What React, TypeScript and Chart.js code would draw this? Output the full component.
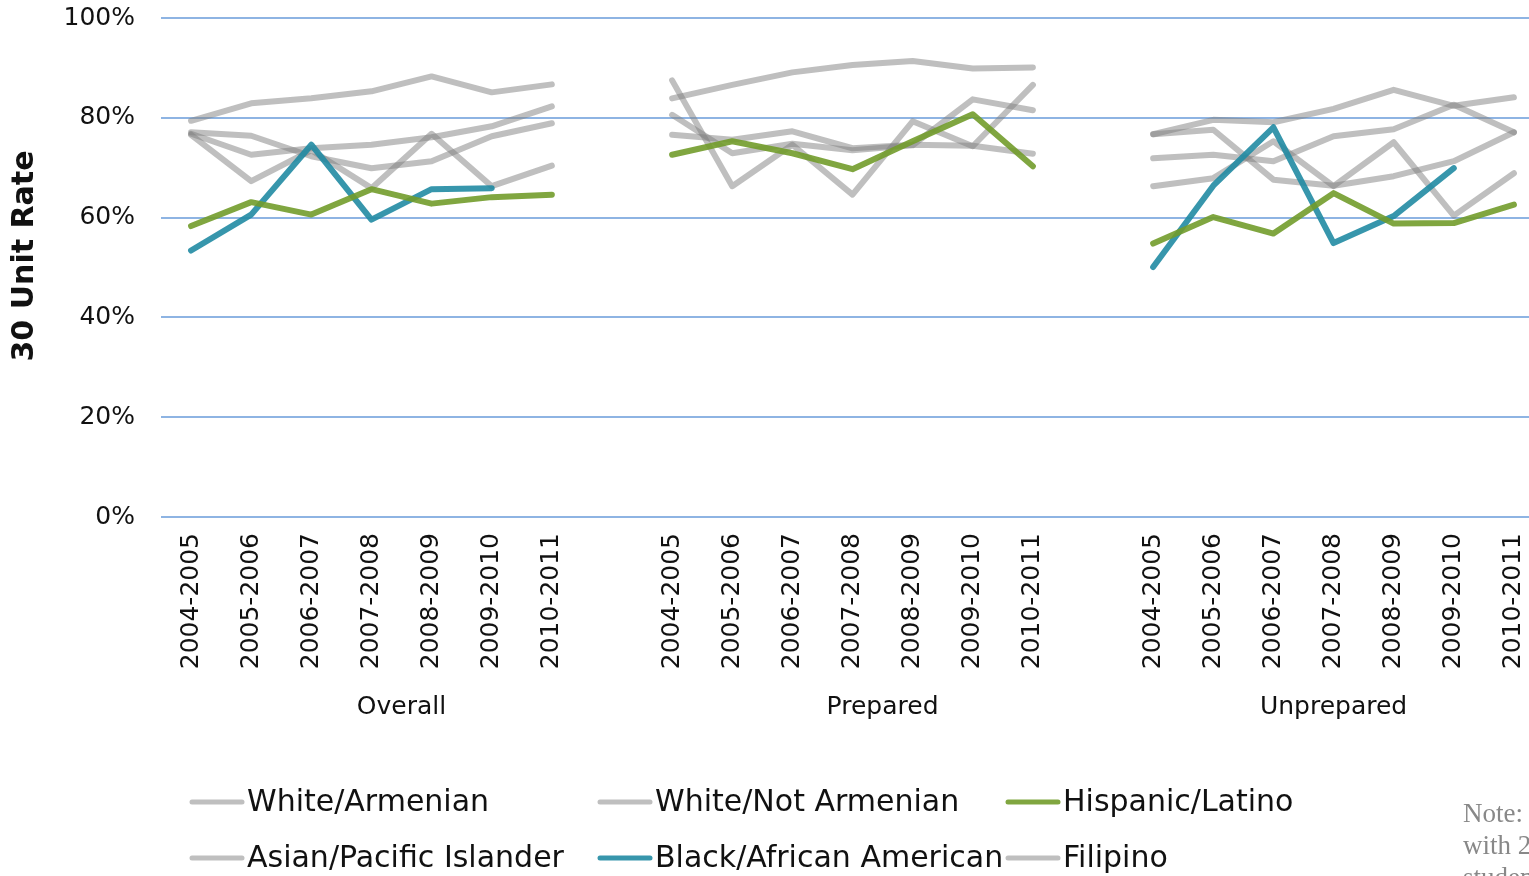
import React, { useEffect, useRef } from 'react';
import { Chart, registerables } from 'chart.js';

Chart.register(...registerables);

const years = ['2004-2005', '2005-2006', '2006-2007', '2007-2008', '2008-2009', '2009-2010', '2010-2011'];
const groupNames = ['Overall', 'Prepared', 'Unprepared'];
const categories = [...years, '', ...years, '', ...years];
const groupRanges = [[0, 7], [8, 15], [16, 22]];
const yTicks = [0, 20, 40, 60, 80, 100];
const yTitle = '30 Unit Rate';

const whiteArmenian = [76.6, 67.3, 73.5, 65.9, 76.8, 66.3, 70.4, null, 87.5, 66.3, 74.6, 64.6, 79.3, 74.3, 86.6, null, 66.3, 67.9, 75.3, 66.3, 75.1, 60.4, 68.9];
const whiteNotArmenian = [77.1, 76.4, 72.3, 69.9, 71.3, 76.3, 78.9, null, 76.6, 75.6, 77.3, 73.9, 74.6, 74.4, 72.8, null, 76.7, 77.6, 67.6, 66.4, 68.3, 71.3, 77.1];
const hispanicLatino = [58.3, 63.1, 60.6, 65.7, 62.8, 64.1, 64.6, null, 72.6, 75.3, 72.9, 69.7, 75.3, 80.7, 70.3, null, 54.8, 60.1, 56.8, 64.9, 58.8, 58.9, 62.6];
const asianPacific = [79.4, 82.9, 83.9, 85.3, 88.3, 85.1, 86.7, null, 83.9, 86.6, 89.1, 90.6, 91.4, 89.9, 90.1, null, 76.7, 79.6, 79.1, 81.8, 85.6, 82.4, 84.1];
const blackAfrican = [53.4, 60.6, 74.6, 59.6, 65.7, 65.9, null, null, null, null, null, null, null, null, null, null, 50.1, 66.4, 78.1, 54.9, 60.3, 69.9, null];
const filipino = [76.8, 72.6, 73.9, 74.6, 76.1, 78.3, 82.3, null, 80.6, 72.9, 74.8, 73.5, 74.5, 83.7, 81.5, null, 71.9, 72.6, 71.3, 76.3, 77.7, 82.6, 77.1];

const seriesNames = ['White/Armenian', 'White/Not Armenian', 'Hispanic/Latino', 'Asian/Pacific Islander', 'Black/African American', 'Filipino'];
const seriesData = [whiteArmenian, whiteNotArmenian, hispanicLatino, asianPacific, blackAfrican, filipino];
const GRAY = 'rgba(128,128,128,0.5)';
const GREEN = 'rgba(114,156,43,0.9)';
const BLUE = 'rgba(33,139,163,0.9)';
const seriesColors = [GRAY, GRAY, GREEN, GRAY, BLUE, GRAY];

const FONT = '"DejaVu Sans", Verdana, sans-serif';

const groupLabelPlugin = {
  id: 'groupLabels',
  afterDraw(chart: any) {
    const ctx = chart.ctx;
    const x = chart.scales.x;
    const step = x.getPixelForValue(1) - x.getPixelForValue(0);
    ctx.save();
    ctx.font = `25px ${FONT}`;
    ctx.fillStyle = '#111';
    ctx.textAlign = 'center';
    ctx.textBaseline = 'middle';
    groupRanges.forEach((r, i) => {
      const left = x.getPixelForValue(r[0]) - step / 2;
      const right = x.getPixelForValue(r[1]) + step / 2;
      ctx.fillText(groupNames[i], (left + right) / 2, 707);
    });
    // y axis title
    ctx.translate(25, 256);
    ctx.rotate(-Math.PI / 2);
    ctx.font = `bold 30px ${FONT}`;
    ctx.fillText(yTitle, 0, 0);
    ctx.restore();
  },
};

const legendPlugin = {
  id: 'customLegend',
  afterDraw(chart: any) {
    const ctx = chart.ctx;
    const startX = 192;
    const colW = 408;
    const rowY = [802, 858];
    ctx.save();
    ctx.font = `30px ${FONT}`;
    ctx.textBaseline = 'middle';
    ctx.textAlign = 'left';
    seriesNames.forEach((name, i) => {
      const col = i % 3;
      const row = Math.floor(i / 3);
      const x0 = startX + col * colW;
      const y = rowY[row];
      ctx.strokeStyle = seriesColors[i];
      ctx.lineWidth = 5;
      ctx.lineCap = 'round';
      ctx.beginPath();
      ctx.moveTo(x0, y);
      ctx.lineTo(x0 + 50, y);
      ctx.stroke();
      ctx.fillStyle = '#111';
      ctx.fillText(name, x0 + 55, y + 1);
    });
    ctx.restore();
  },
};

export default function App() {
  const canvasRef = useRef<HTMLCanvasElement | null>(null);

  useEffect(() => {
    if (!canvasRef.current) return;
    const chart = new Chart(canvasRef.current, {
      type: 'line',
      data: {
        labels: categories,
        datasets: seriesNames.map((name, i) => ({
          label: name,
          data: seriesData[i],
          borderColor: seriesColors[i],
          backgroundColor: seriesColors[i],
          borderWidth: 6,
          pointRadius: 0,
          tension: 0,
          spanGaps: false,
          borderCapStyle: 'round',
          borderJoinStyle: 'round',
          order: seriesColors[i] === GRAY ? 2 : 1,
        })),
      },
      options: {
        responsive: false,
        animation: false,
        devicePixelRatio: 1,
        layout: { padding: { left: 0, top: 18, right: 0, bottom: 0 } },
        plugins: {
          legend: { display: false },
          tooltip: { enabled: false },
        },
        scales: {
          x: {
            offset: true,
            grid: { display: false },
            border: { display: false },
            afterFit: (s: any) => {
              s.height = 359;
              s.paddingLeft = 0;
              s.paddingRight = 0;
            },
            ticks: {
              autoSkip: false,
              maxRotation: 90,
              minRotation: 90,
              padding: 8,
              color: '#111',
              font: { family: FONT, size: 25 },
            },
          },
          y: {
            min: 0,
            max: 100,
            afterBuildTicks: (scale: any) => {
              scale.ticks = yTicks.map((v) => ({ value: v }));
            },
            afterFit: (s: any) => {
              s.width = 161;
              s.paddingTop = 0;
              s.paddingBottom = 0;
            },
            grid: { color: '#8eb4e3', lineWidth: 2, drawTicks: false },
            border: { display: false },
            ticks: {
              padding: 26,
              color: '#111',
              font: { family: FONT, size: 25 },
              callback: (v: any) => `${v}%`,
            },
            title: { display: false },
          },
        },
      },
      plugins: [groupLabelPlugin, legendPlugin],
    } as any);
    return () => chart.destroy();
  }, []);

  return (
    <div style={{ position: 'fixed', left: 0, top: 0, width: 1529, height: 876, overflow: 'hidden', background: '#fff' }}>
      <canvas ref={canvasRef} width={1544} height={876} style={{ position: 'absolute', left: 0, top: 0 }} />
      <div
        style={{
          position: 'absolute',
          left: 1463,
          top: 797,
          fontFamily: '"Liberation Serif", serif',
          fontSize: 27,
          lineHeight: '32px',
          color: '#888',
          whiteSpace: 'nowrap',
        }}
      >
        <div>Note: Groups shown</div>
        <div>with 20 or more</div>
        <div>students</div>
      </div>
    </div>
  );
}
